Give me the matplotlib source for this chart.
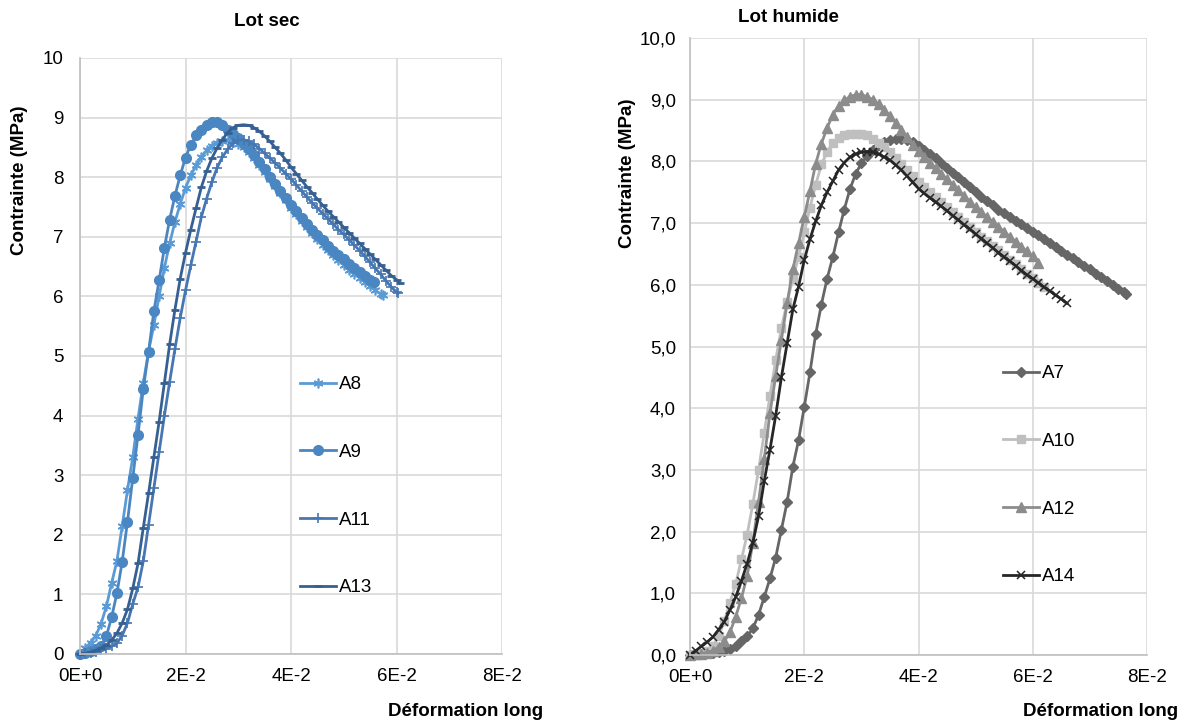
import matplotlib
matplotlib.use("Agg")
import matplotlib.pyplot as plt
from matplotlib.ticker import FuncFormatter

plt.rcParams['font.family'] = ['Liberation Sans', 'DejaVu Sans']

# strain sampling points (step of 0.001)
strain_grid = [0.000, 0.001, 0.002, 0.003, 0.004, 0.005, 0.006, 0.007, 0.008, 0.009,
               0.010, 0.011, 0.012, 0.013, 0.014, 0.015, 0.016, 0.017, 0.018, 0.019,
               0.020, 0.021, 0.022, 0.023, 0.024, 0.025, 0.026, 0.027, 0.028, 0.029,
               0.030, 0.031, 0.032, 0.033, 0.034, 0.035, 0.036, 0.037, 0.038, 0.039,
               0.040, 0.041, 0.042, 0.043, 0.044, 0.045, 0.046, 0.047, 0.048, 0.049,
               0.050, 0.051, 0.052, 0.053, 0.054, 0.055, 0.056, 0.057, 0.058, 0.059,
               0.060, 0.061, 0.062, 0.063, 0.064, 0.065, 0.066, 0.067, 0.068, 0.069,
               0.070, 0.071, 0.072, 0.073, 0.074, 0.075, 0.076]

# --- Lot sec ---
a8_strain = strain_grid[:58] + [0.0574]
a8_stress = [0.00, 0.10, 0.19, 0.31, 0.51, 0.80, 1.19, 1.56, 2.15, 2.75,
             3.30, 3.95, 4.55, 5.08, 5.52, 6.00, 6.48, 6.89, 7.25, 7.55,
             7.82, 8.03, 8.20, 8.34, 8.45, 8.53, 8.58, 8.61, 8.62, 8.60,
             8.56, 8.50, 8.42, 8.32, 8.21, 8.09, 7.97, 7.85, 7.73, 7.61,
             7.49, 7.38, 7.27, 7.16, 7.06, 6.96, 6.87, 6.78, 6.69, 6.61,
             6.53, 6.45, 6.38, 6.31, 6.24, 6.17, 6.10, 6.04, 6.02]

a9_strain = strain_grid[:56] + [0.0558]
a9_stress = [0.00, 0.02, 0.05, 0.08, 0.14, 0.30, 0.62, 1.02, 1.55, 2.22,
             2.95, 3.68, 4.45, 5.07, 5.75, 6.27, 6.82, 7.29, 7.69, 8.03,
             8.33, 8.54, 8.70, 8.80, 8.87, 8.92, 8.93, 8.88, 8.80, 8.72,
             8.65, 8.56, 8.47, 8.37, 8.26, 8.14, 8.01, 7.89, 7.77, 7.65,
             7.54, 7.43, 7.32, 7.22, 7.12, 7.03, 6.94, 6.85, 6.77, 6.70,
             6.62, 6.55, 6.48, 6.41, 6.34, 6.28, 6.24]

a11_strain = strain_grid[:61] + [0.0603]
a11_stress = [0.00, 0.01, 0.02, 0.04, 0.06, 0.09, 0.13, 0.18, 0.31, 0.52,
              0.84, 1.12, 1.56, 2.17, 2.78, 3.39, 4.00, 4.57, 5.12, 5.64,
              6.10, 6.52, 6.92, 7.33, 7.64, 7.92, 8.16, 8.34, 8.47, 8.57,
              8.62, 8.63, 8.60, 8.55, 8.48, 8.40, 8.32, 8.24, 8.15, 8.06,
              7.97, 7.87, 7.77, 7.67, 7.57, 7.48, 7.39, 7.30, 7.21, 7.12,
              7.04, 6.95, 6.86, 6.77, 6.67, 6.57, 6.47, 6.37, 6.26, 6.16,
              6.07, 6.05]

a13_strain = strain_grid[:61] + [0.0606]
a13_stress = [0.00, 0.01, 0.03, 0.06, 0.10, 0.15, 0.23, 0.35, 0.52, 0.75,
              1.10, 1.52, 2.12, 2.70, 3.30, 3.90, 4.55, 5.20, 5.78, 6.30,
              6.73, 7.12, 7.48, 7.83, 8.10, 8.32, 8.49, 8.63, 8.75, 8.83,
              8.87, 8.88, 8.87, 8.83, 8.77, 8.69, 8.60, 8.50, 8.40, 8.29,
              8.17, 8.06, 7.95, 7.84, 7.74, 7.63, 7.53, 7.43, 7.34, 7.25,
              7.16, 7.07, 6.98, 6.89, 6.80, 6.71, 6.62, 6.53, 6.44, 6.35,
              6.28, 6.22]

# --- Lot humide ---
a7_strain = strain_grid[:77] + [0.0764]
a7_stress = [0.00, 0.01, 0.02, 0.03, 0.04, 0.05, 0.07, 0.10, 0.15, 0.22,
             0.30, 0.43, 0.65, 0.94, 1.24, 1.58, 2.03, 2.48, 3.05, 3.48,
             4.02, 4.58, 5.20, 5.68, 6.10, 6.45, 6.85, 7.22, 7.55, 7.80,
             7.97, 8.09, 8.19, 8.27, 8.32, 8.35, 8.37, 8.37, 8.35, 8.31,
             8.25, 8.19, 8.12, 8.05, 7.97, 7.89, 7.81, 7.74, 7.67, 7.59,
             7.51, 7.43, 7.36, 7.29, 7.22, 7.16, 7.10, 7.04, 6.98, 6.92,
             6.86, 6.80, 6.74, 6.67, 6.61, 6.55, 6.49, 6.43, 6.37, 6.31,
             6.25, 6.18, 6.12, 6.06, 6.00, 5.94, 5.88, 5.85]

a10_strain = strain_grid[:63]
a10_stress = [0.00, 0.01, 0.02, 0.06, 0.15, 0.30, 0.55, 0.85, 1.15, 1.55,
              1.95, 2.45, 3.00, 3.60, 4.20, 4.78, 5.30, 5.72, 6.10, 6.45,
              6.85, 7.25, 7.62, 7.95, 8.15, 8.30, 8.38, 8.43, 8.45, 8.45,
              8.44, 8.42, 8.37, 8.30, 8.23, 8.15, 8.06, 7.96, 7.86, 7.76,
              7.66, 7.58, 7.50, 7.42, 7.34, 7.26, 7.18, 7.10, 7.02, 6.94,
              6.86, 6.78, 6.71, 6.63, 6.56, 6.48, 6.41, 6.33, 6.26, 6.18,
              6.11, 6.03, 5.96]

a12_strain = strain_grid[:62]
a12_stress = [0.00, 0.01, 0.02, 0.04, 0.07, 0.13, 0.22, 0.37, 0.62, 0.92,
              1.28, 1.82, 2.48, 3.18, 3.92, 4.52, 5.11, 5.70, 6.25, 6.67,
              7.10, 7.52, 7.96, 8.29, 8.54, 8.76, 8.90, 8.99, 9.05, 9.08,
              9.08, 9.05, 9.00, 8.93, 8.84, 8.74, 8.63, 8.51, 8.39, 8.27,
              8.17, 8.07, 7.98, 7.89, 7.80, 7.71, 7.62, 7.53, 7.44, 7.35,
              7.26, 7.18, 7.10, 7.02, 6.94, 6.86, 6.78, 6.70, 6.62, 6.54,
              6.46, 6.36]

a14_strain = strain_grid[:67]
a14_stress = [0.00, 0.07, 0.14, 0.21, 0.29, 0.41, 0.54, 0.73, 0.94, 1.20,
              1.48, 1.82, 2.25, 2.82, 3.33, 3.88, 4.50, 5.05, 5.60, 5.97,
              6.40, 6.74, 7.03, 7.29, 7.50, 7.68, 7.86, 7.98, 8.07, 8.12,
              8.15, 8.16, 8.15, 8.12, 8.07, 8.02, 7.94, 7.86, 7.76, 7.66,
              7.56, 7.48, 7.41, 7.34, 7.27, 7.20, 7.12, 7.05, 6.97, 6.90,
              6.82, 6.75, 6.67, 6.60, 6.52, 6.45, 6.38, 6.31, 6.23, 6.16,
              6.10, 6.03, 5.96, 5.90, 5.83, 5.77, 5.70]

x_ticks = [0, 0.02, 0.04, 0.06, 0.08]
x_tick_labels = ['0E+0', '2E-2', '4E-2', '6E-2', '8E-2']
y_ticks = [0, 1, 2, 3, 4, 5, 6, 7, 8, 9, 10]

FS = 13.5
W, H = 1190, 727

fig = plt.figure(figsize=(W / 100, H / 100), dpi=100)
ax1 = fig.add_axes([80 / W, 1 - 654 / H, 422 / W, 596 / H])
ax2 = fig.add_axes([690 / W, 1 - 655 / H, 457 / W, 617 / H])


def style_axes(ax, ypad):
    ax.set_xlim(0, 0.08)
    ax.set_ylim(0, 10)
    ax.set_xticks(x_ticks)
    ax.set_xticklabels(x_tick_labels)
    ax.set_yticks(y_ticks)
    ax.grid(True, color='#D9D9D9', linewidth=1.2)
    ax.set_axisbelow(True)
    for s in ['top', 'right']:
        ax.spines[s].set_visible(False)
    for s in ['left', 'bottom']:
        ax.spines[s].set_color('#BFBFBF')
        ax.spines[s].set_linewidth(1.2)
    ax.tick_params(axis='both', length=0, labelsize=FS, colors='black')
    ax.tick_params(axis='y', pad=ypad)
    ax.tick_params(axis='x', pad=10)


style_axes(ax1, 12)
style_axes(ax2, 10)
ax2.yaxis.set_major_formatter(FuncFormatter(lambda v, p: f'{v:.1f}'.replace('.', ',')))

# Lot sec series
ax1.plot(a8_strain, a8_stress, color='#5B9BD5', lw=2, marker=(6, 2, 0), ms=7, mew=1.2, label='A8', clip_on=False)
ax1.plot(a9_strain, a9_stress, color='#4A86C2', lw=2, marker='o', ms=7, label='A9', clip_on=False)
ax1.plot(a11_strain, a11_stress, color='#4677B2', lw=2, marker='+', ms=7, mew=1.2, label='A11', clip_on=False)
ax1.plot(a13_strain, a13_stress, color='#376092', lw=2, marker='_', ms=6, mew=2, label='A13', clip_on=False)

# Lot humide series
ax2.plot(a7_strain, a7_stress, color='#666666', lw=2, marker='D', ms=5, label='A7', clip_on=False)
ax2.plot(a10_strain, a10_stress, color='#BFBFBF', lw=2, marker='s', ms=6, label='A10', clip_on=False)
ax2.plot(a12_strain, a12_stress, color='#8C8C8C', lw=2, marker='^', ms=7, label='A12', clip_on=False)
ax2.plot(a14_strain, a14_stress, color='#262626', lw=2, marker='x', ms=6, mew=1.1, label='A14', clip_on=False)

leg_kw = dict(loc='upper left', bbox_transform=fig.transFigure, frameon=False,
              labelspacing=2.7, handlelength=1.9, handletextpad=0.2,
              borderpad=0, borderaxespad=0, fontsize=FS)
ax1.legend(bbox_to_anchor=(300 / W, 1 - 376 / H), **leg_kw)
ax2.legend(bbox_to_anchor=(1003 / W, 1 - 365 / H), **leg_kw)

# titles and axis titles
bold = dict(fontweight='bold', fontsize=FS, ha='center', va='center')
fig.text(267 / W, 1 - 22 / H, 'Lot sec', **bold)
fig.text(788 / W, 1 - 18 / H, 'Lot humide', **bold)
fig.text(20 / W, 1 - 180 / H, 'Contrainte (MPa)', rotation=90, **bold)
fig.text(627 / W, 1 - 173 / H, 'Contrainte (MPa)', rotation=90, **bold)
fig.text(543 / W, 1 - 712 / H, 'Déformation long', fontweight='bold', fontsize=FS, ha='right', va='center')
fig.text(1178 / W, 1 - 712 / H, 'Déformation long', fontweight='bold', fontsize=FS, ha='right', va='center')

fig.savefig('out.png', dpi=100)
